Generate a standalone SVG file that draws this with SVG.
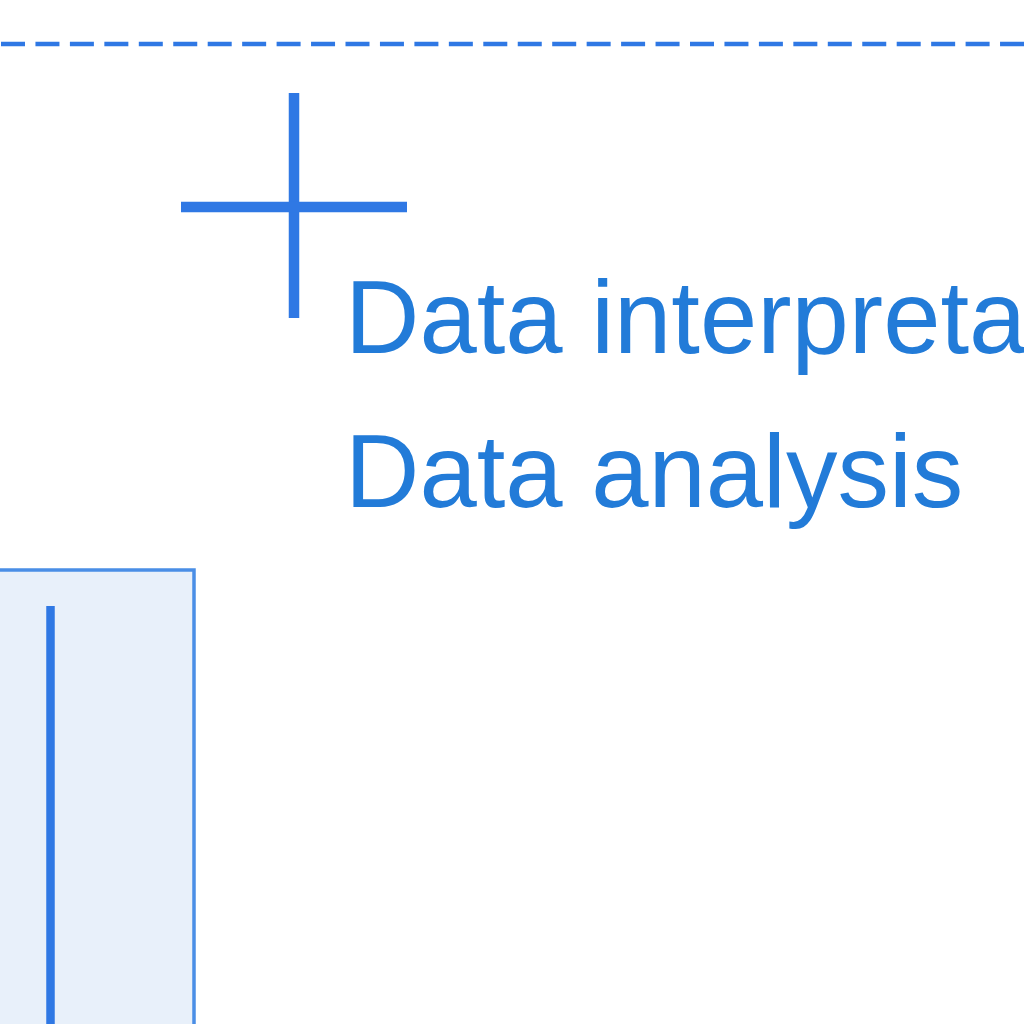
<svg xmlns="http://www.w3.org/2000/svg" width="1024" height="1024" viewBox="0 0 1024 1024">
<style>
.line{stroke:#2f78e4;fill:none}
.lbl{font-family:"Liberation Sans",Arial,sans-serif;font-size:103px;fill:#227bd8}
</style>
<rect width="1024" height="1024" fill="#ffffff"/>
<g id="connectors">
<line class="line" x1="0" y1="44" x2="1024" y2="44" stroke-width="4.5" stroke-dasharray="24 10.45" stroke-dashoffset="-1"/>
</g>
<g id="cross">
<line class="line" x1="294" y1="93" x2="294" y2="318" stroke-width="10.5"/>
<line class="line" x1="181" y1="207" x2="407" y2="207" stroke-width="10.5"/>
</g>
<g id="labels">
<text class="lbl" x="345" y="353">Data interpretation</text>
<text class="lbl" x="345" y="507">Data analysis</text>
</g>
<g id="box">
<rect x="-10" y="570" width="204" height="470" fill="#e8f0fa" stroke="#4a8ee6" stroke-width="3.5"/>
<line class="line" x1="50.5" y1="606" x2="50.5" y2="1024" stroke-width="8.5"/>
</g>
</svg>
